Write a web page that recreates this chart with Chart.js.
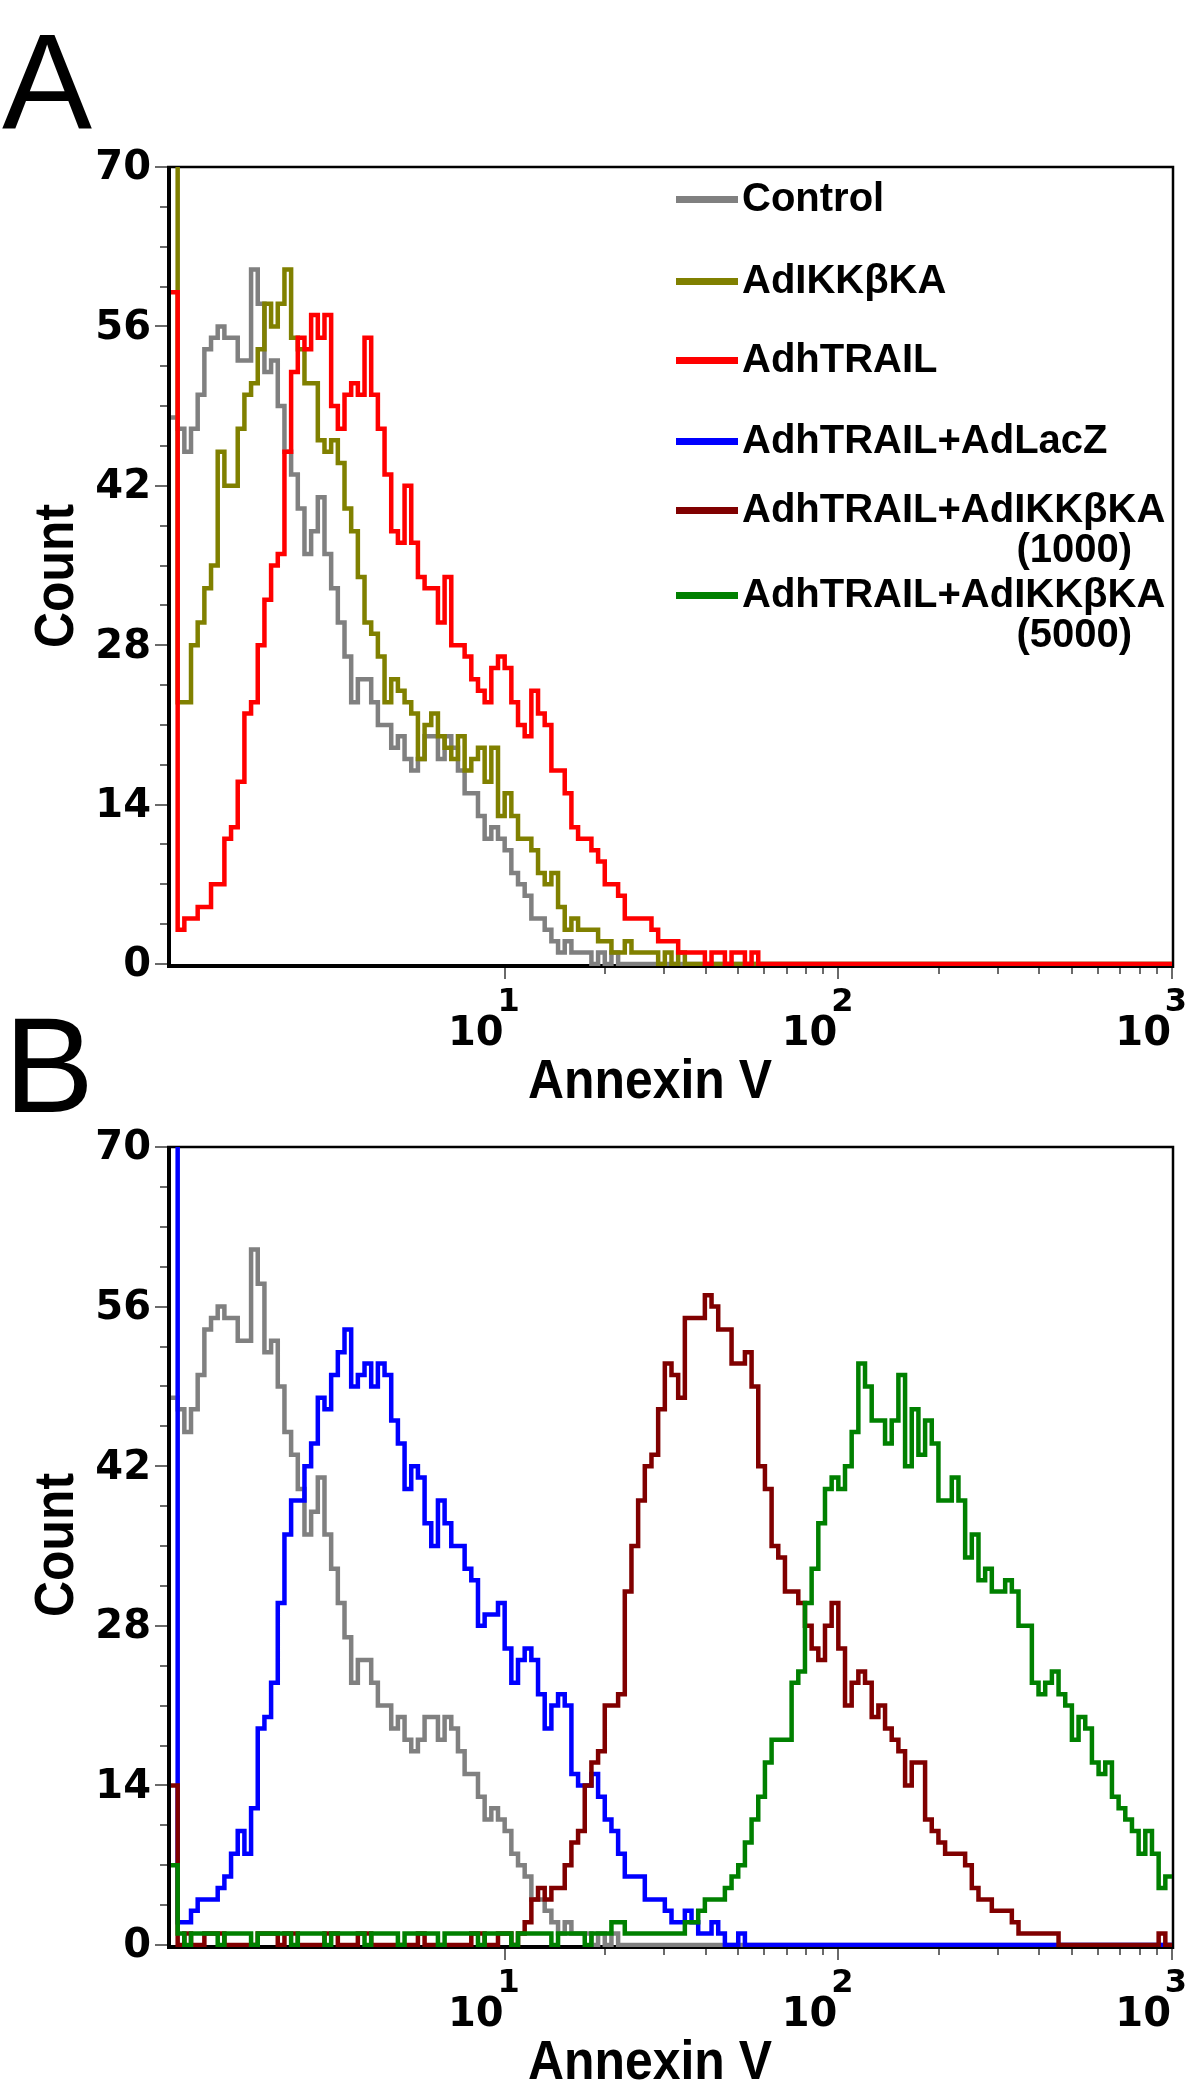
<!DOCTYPE html>
<html><head><meta charset="utf-8">
<script src="https://cdn.jsdelivr.net/npm/chart.js@4.4.1/dist/chart.umd.min.js"></script>
<style>
html,body{margin:0;padding:0;background:#fff;}
#wrap{position:relative;width:1200px;height:2082px;overflow:hidden;background:#fff;}
canvas{position:absolute;left:0;}
#cA{top:0;width:1200px;height:1110px;}
#cB{top:1000px;width:1200px;height:1082px;}
</style></head>
<body><div id="wrap"><canvas id="cA" width="1200" height="1110"></canvas><canvas id="cB" width="1200" height="1082"></canvas></div>
<script>
// ---------- DATA ----------
// histogram channels: 150 bins, each 0.02 decade wide, from 10^0 to 10^3 (bin left edges + final right edge)
const binCount = 150;
const channels = Array.from({length: binCount + 1}, (_, i) => Math.pow(10, i * 0.02));

const controlCounts = [
 48,47,45,47,50,54,55,56,55,55, 53,53,61,58,52,53,49,45,43,40,
 36,38,41,36,33,30,27,23,25,25, 23,21,21,19,20,18,17,18,20,20,
 18,20,19,17,15,15,13,11,12,11, 10,8,7,6,4,4,3,2,1,2,
 1,1,1,0,1,0,1,0,0,0, 0,0,0,0,0,0,0,0,0,0,
 0,0,0,0,0,0,0,0,0,0, 0,0,0,0,0,0,0,0,0,0,
 0,0,0,0,0,0,0,0,0,0, 0,0,0,0,0,0,0,0,0,0,
 0,0,0,0,0,0,0,0,0,0, 0,0,0,0,0,0,0,0,0,0,
 0,0,0,0,0,0,0,0,0,0];
const ikkCounts = [
 75,23,23,28,30,33,35,45,42,42, 47,50,51,54,58,56,58,61,55,54,
 51,51,46,45,46,44,40,38,34,30, 29,27,23,25,24,23,22,18,21,22,
 20,19,18,20,17,18,19,16,19,13, 15,13,11,11,10,8,7,8,5,3,
 4,3,3,3,2,2,1,1,2,1, 1,1,1,0,1,0,1,0,0,0,
 0,0,0,0,0,0,0,0,0,0, 0,0,0,0,0,0,0,0,0,0,
 0,0,0,0,0,0,0,0,0,0, 0,0,0,0,0,0,0,0,0,0,
 0,0,0,0,0,0,0,0,0,0, 0,0,0,0,0,0,0,0,0,0,
 0,0,0,0,0,0,0,0,0,0];
const trailCounts = [
 59,3,4,4,5,5,7,7,11,12, 16,22,23,28,32,35,36,45,52,55,
 54,57,55,57,49,47,50,51,50,55, 50,47,43,38,37,42,37,34,33,33,
 30,34,28,28,27,25,24,23,26,27, 26,23,21,20,24,22,21,17,17,15,
 12,11,11,10,9,7,7,6,4,4, 4,4,3,2,2,2,1,1,1,1,
 0,1,1,0,1,1,0,1,0,0, 0,0,0,0,0,0,0,0,0,0,
 0,0,0,0,0,0,0,0,0,0, 0,0,0,0,0,0,0,0,0,0,
 0,0,0,0,0,0,0,0,0,0, 0,0,0,0,0,0,0,0,0,0,
 0,0,0,0,0,0,0,0,0,0];
const lacZCounts = [
 80,2,2,3,4,4,4,5,6,8, 10,8,12,19,20,23,30,36,39,39,
 42,44,48,47,50,52,54,49,50,51, 49,51,50,46,44,40,42,41,37,35,
 39,37,35,35,33,32,28,29,29,30, 26,23,25,26,25,22,19,21,22,21,
 15,14,14,15,13,11,10,8,6,6, 6,4,4,4,3,2,2,3,2,1,
 1,2,1,0,0,1,0,0,0,0, 0,0,0,0,0,0,0,0,0,0,
 0,0,0,0,0,0,0,0,0,0, 0,0,0,0,0,0,0,0,0,0,
 0,0,0,0,0,0,0,0,0,0, 0,0,0,0,0,0,0,0,0,0,
 0,0,0,0,0,0,0,0,0,0];
const ikk1000Counts = [
 14,0,1,0,0,1,1,1,0,0, 0,0,0,1,1,1,0,1,1,0,
 0,0,0,1,1,0,0,0,1,1, 0,0,0,0,0,0,0,1,0,0,
 0,0,0,0,0,1,1,0,0,1, 1,0,1,2,4,5,4,5,5,7,
 9,10,14,16,17,21,21,22,31,35, 39,42,43,47,51,50,48,55,55,55,
 57,56,54,54,51,51,52,49,42,40, 35,34,31,31,30,28,26,25,28,30,
 26,21,23,24,23,20,21,19,18,17, 14,16,16,11,10,9,8,8,8,7,
 5,4,4,3,3,3,2,1,1,1, 1,1,1,0,0,0,0,0,0,0,
 0,0,0,0,0,0,0,0,1,0];
const ikk5000Counts = [
 7,1,0,1,1,1,1,0,1,1, 1,1,0,1,1,1,1,1,0,1,
 1,1,1,0,1,1,1,1,1,0, 1,1,1,1,0,1,1,1,1,1,
 0,1,1,1,1,1,0,1,1,1, 1,0,1,1,1,1,1,0,1,1,
 1,1,0,1,1,1,2,2,1,1, 1,1,1,1,1,1,1,2,2,3,
 4,4,4,5,6,7,9,11,13,16, 18,18,18,23,24,30,33,37,40,41,
 40,42,45,51,49,46,46,44,46,50, 42,47,43,46,44,39,39,41,39,34,
 36,32,33,31,31,32,31,28,28,23, 22,23,24,22,21,18,20,19,16,15,
 16,13,12,11,10,8,10,8,5,6];

const seriesNames = ['Control', 'AdIKKβKA', 'AdhTRAIL', 'AdhTRAIL+AdLacZ', 'AdhTRAIL+AdIKKβKA (1000)', 'AdhTRAIL+AdIKKβKA (5000)'];
const seriesColors = ['#808080', '#808000', '#ff0000', '#0000ff', '#800000', '#008000'];
const legendLines = [['Control'], ['AdIKKβKA'], ['AdhTRAIL'], ['AdhTRAIL+AdLacZ'], ['AdhTRAIL+AdIKKβKA', '(1000)'], ['AdhTRAIL+AdIKKβKA', '(5000)']];

const yTickValues = [0, 14, 28, 42, 56, 70];
const yMinorStep = 3.5;
const xDecadeTicks = [10, 100, 1000];
const xDecadeExponents = ['1', '2', '3'];
const xMinorDecades = [10, 100];
const xMinorMultipliers = [2, 3, 4, 5, 6, 7, 8, 9];
const xAxisTitle = 'Annexin V';
const yAxisTitle = 'Count';

// ---------- DRAWING ----------
function toPoints(counts) {
  const pts = counts.map((c, i) => ({x: channels[i], y: c}));
  pts.push({x: channels[binCount], y: counts[binCount - 1]});
  return pts;
}
function makeDataset(idx, counts, order) {
  return {
    label: seriesNames[idx], data: toPoints(counts),
    borderColor: seriesColors[idx], backgroundColor: seriesColors[idx],
    borderWidth: 4.5, pointRadius: 0, stepped: true, fill: false,
    order: order, clip: {left: 2, right: 2, top: 0, bottom: 2},
    borderJoinStyle: 'miter', borderCapStyle: 'butt'
  };
}

function fitted(ctx, text, cx, cy, targetW, font, angle) {
  ctx.save();
  ctx.font = font;
  const w = ctx.measureText(text).width;
  ctx.translate(cx, cy);
  if (angle) ctx.rotate(angle);
  ctx.scale(targetW / w, 1);
  ctx.textAlign = 'center';
  ctx.textBaseline = 'alphabetic';
  ctx.fillStyle = '#000';
  ctx.fillText(text, 0, 0);
  ctx.restore();
}

const decor = {
  id: 'decor',
  beforeDatasetsDraw(chart, args, o) {
    const {ctx, chartArea: a, scales: {x, y}} = chart;
    ctx.save();
    ctx.strokeStyle = '#000';
    ctx.lineWidth = 2.5;
    ctx.beginPath();
    ctx.moveTo(a.left - 4, a.top); ctx.lineTo(a.right + 1, a.top); ctx.lineTo(a.right + 1, a.bottom + 4);
    ctx.stroke();
    ctx.fillStyle = '#000';
    ctx.fillRect(a.left - 4, a.top - 1, 4, a.bottom - a.top + 5);
    ctx.fillRect(a.left - 4, a.bottom, a.right - a.left + 6, 4);
    // y ticks
    ctx.strokeStyle = '#6a6a6a';
    ctx.lineWidth = 2;
    for (let v = 0; v <= 70 + 1e-6; v += yMinorStep) {
      const py = Math.round(y.getPixelForValue(v));
      const major = yTickValues.some(t => Math.abs(t - v) < 1e-6);
      ctx.beginPath();
      ctx.moveTo(a.left - 4 - (major ? 12 : 7), py);
      ctx.lineTo(a.left - 4, py);
      ctx.stroke();
    }
    // x ticks
    const base = a.bottom + 4;
    xMinorDecades.forEach(d => xMinorMultipliers.forEach(k => {
      const px = Math.round(x.getPixelForValue(k * d));
      ctx.beginPath(); ctx.moveTo(px, base); ctx.lineTo(px, base + 6); ctx.stroke();
    }));
    xDecadeTicks.forEach(t => {
      const px = Math.round(x.getPixelForValue(t));
      ctx.beginPath(); ctx.moveTo(px, base); ctx.lineTo(px, base + 11); ctx.stroke();
    });
    ctx.restore();
  },
  afterDraw(chart, args, o) {
    const {ctx, chartArea: a, scales: {x, y}} = chart;
    ctx.save();
    ctx.fillStyle = '#000';
    // y tick labels
    ctx.font = 'bold 40px "DejaVu Sans"';
    ctx.textAlign = 'right';
    ctx.textBaseline = 'middle';
    yTickValues.forEach(v => ctx.fillText(String(v), a.left - 20, y.getPixelForValue(v) + 2));
    // x tick labels 10^n
    xDecadeTicks.forEach((t, i) => {
      const px = x.getPixelForValue(t);
      ctx.font = 'bold 40px "DejaVu Sans"';
      ctx.textAlign = 'right';
      ctx.textBaseline = 'middle';
      ctx.fillText('10', px - 1, a.bottom + 71);
      ctx.font = 'bold 32px "DejaVu Sans"';
      ctx.textAlign = 'center';
      ctx.fillText(xDecadeExponents[i], px + 4, a.bottom + 39);
    });
    // axis titles
    fitted(ctx, xAxisTitle, 650, a.bottom + 134, 244, 'bold 56px "Liberation Sans"', 0);
    fitted(ctx, yAxisTitle, 73, o.countY, 144, 'bold 55px "Liberation Sans"', -Math.PI / 2);
    // panel letter
    ctx.font = '135px "Liberation Sans"';
    ctx.textAlign = 'left';
    ctx.textBaseline = 'alphabetic';
    ctx.fillText(o.letter, o.letterX, o.letterY);
    // legend
    if (o.legend) {
      const rowY = [199, 281, 360, 441, 510, 595];
      const subY = [0, 0, 0, 0, 550, 635];
      ctx.font = 'bold 40px "Liberation Sans"';
      legendLines.forEach((lines, i) => {
        ctx.fillStyle = seriesColors[i];
        ctx.fillRect(676, rowY[i] - 3, 62, 7);
        ctx.fillStyle = '#000';
        ctx.textAlign = 'left';
        ctx.textBaseline = 'middle';
        ctx.fillText(lines[0], 742, rowY[i] + 1);
        if (lines[1]) {
          ctx.textAlign = 'right';
          ctx.fillText(lines[1], 1132, subY[i] + 1);
        }
      });
    }
    ctx.restore();
  }
};

function makeChart(id, datasets, pad, opts) {
  return new Chart(document.getElementById(id), {
    type: 'line',
    data: {datasets},
    options: {
      responsive: false, animation: false, devicePixelRatio: 1, events: [],
      layout: {padding: pad},
      scales: {
        x: {type: 'logarithmic', min: 1, max: 1000, display: false},
        y: {type: 'linear', min: 0, max: 70, display: false}
      },
      plugins: {legend: {display: false}, tooltip: {enabled: false}, decor: opts}
    },
    plugins: [decor]
  });
}

makeChart('cA', [
  makeDataset(0, controlCounts, 3),
  makeDataset(1, ikkCounts, 2),
  makeDataset(2, trailCounts, 1)
], {left: 171, right: 28, top: 167, bottom: 146},
  {letter: 'A', letterX: 2, letterY: 128, countY: 576, legend: true});

makeChart('cB', [
  makeDataset(0, controlCounts, 4),
  makeDataset(3, lacZCounts, 3),
  makeDataset(4, ikk1000Counts, 2),
  makeDataset(5, ikk5000Counts, 1)
], {left: 171, right: 28, top: 147, bottom: 137},
  {letter: 'B', letterX: 4, letterY: 112, countY: 545, legend: false});
</script>
</body></html>
